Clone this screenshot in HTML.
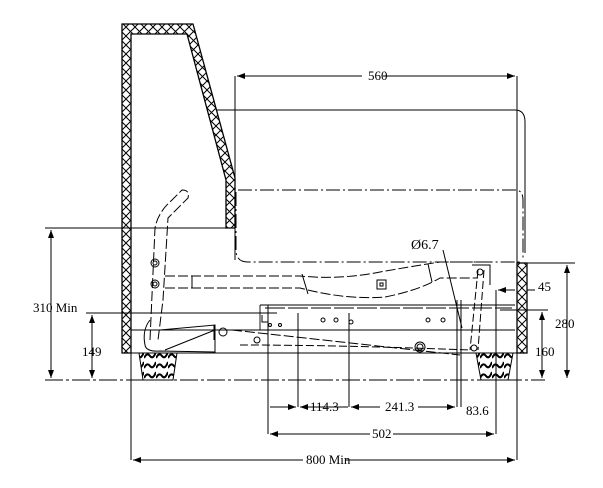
<!DOCTYPE html>
<html><head><meta charset="utf-8"><style>
html,body{margin:0;padding:0;background:#fff;width:603px;height:488px;overflow:hidden}
svg{display:block}
text{font-family:"Liberation Serif",serif;font-size:13px;fill:#000}
</style></head><body>
<svg width="603" height="488" viewBox="0 0 603 488" xmlns="http://www.w3.org/2000/svg">
<defs>
<pattern id="h" width="9" height="9" patternUnits="userSpaceOnUse">
<rect width="9" height="9" fill="#fff"/>
<path d="M0 0L9 9M9 0L0 9" stroke="#000" stroke-width="1"/>
</pattern>
<pattern id="w" width="12" height="10" patternUnits="userSpaceOnUse">
<rect width="12" height="10" fill="#fff"/>
<path d="M0 8Q3 2 6 6T12 2" stroke="#000" stroke-width="2" fill="none"/>
</pattern>
<marker id="a" markerWidth="8" markerHeight="6" refX="8" refY="3" orient="auto-start-reverse" markerUnits="userSpaceOnUse"><path d="M0 0L8 3L0 6z" fill="#000"/></marker>
</defs>
<g fill="none" stroke="#000" stroke-width="1">
<path d="M122 24H193L235 178V228H226V180L187 34H131V353H122Z" fill="url(#h)" stroke-width="1.3"/>
<rect x="517" y="263" width="10" height="90" fill="url(#h)" stroke-width="1.3"/>
<path d="M131 353H517"/>
<path d="M139 353H177L173 380H143Z" fill="url(#w)"/>
<path d="M476 353H513L508 380H481Z" fill="url(#w)"/>
<path d="M216 110H515Q525 110 525 122V253"/>
<path d="M238 190H515Q523 190 523 200V260" stroke-dasharray="14 3 2 3"/>
<path d="M236 192V250Q236 262 248 262H520" stroke-dasharray="14 3 2 3"/>
<path d="M235 76V260M517 76V263"/>
<path d="M237 76H362M383 76H515" marker-start="url(#a)" marker-end="url(#a)"/>
<path d="M45 228H226"/>
<path d="M51 230V378" marker-start="url(#a)" marker-end="url(#a)"/>
<path d="M86 313H277"/>
<path d="M92 315V378" marker-start="url(#a)" marker-end="url(#a)"/>
<path d="M45 380H545" stroke-dasharray="18 3 3 3"/>
<path d="M527 263H575"/>
<path d="M567 265V378" marker-start="url(#a)" marker-end="url(#a)"/>
<path d="M500 310H548"/>
<path d="M542 312V378" marker-start="url(#a)" marker-end="url(#a)"/>
<path d="M496 290V434"/>
<path d="M498 290H515M527 290H535" marker-start="url(#a)"/>
<path d="M298 313V407M349 313V407M457 300V407M461 300V407M268 305V434M131 353V460M517 353V460"/>
<path d="M270 407H296" marker-end="url(#a)"/>
<path d="M300 407H348" marker-start="url(#a)"/>
<path d="M351 407H380M418 407H455" marker-start="url(#a)" marker-end="url(#a)"/>
<path d="M270 434H370M393 434H494" marker-start="url(#a)" marker-end="url(#a)"/>
<path d="M133 460H303M345 460H515" marker-start="url(#a)" marker-end="url(#a)"/>
<path d="M443 250L462 328"/>
<path d="M260 305H515M260 305V330M260 330H515M131 330H262" stroke-width="0.9"/>
<path d="M265 308H512" stroke-dasharray="20 3"/>
<path d="M165 276H300Q340 280 380 272Q420 265 440 262H480" stroke-dasharray="10 3"/>
<path d="M165 288H300Q345 300 385 297Q420 290 440 278H478" stroke-dasharray="10 3"/>
<path d="M192 276V288M302 274L308 294M428 264L432 282"/>
<rect x="377" y="280" width="9" height="9"/>
<rect x="380" y="283" width="3" height="3"/>
<path d="M150 340L155 228Q158 212 172 200L182 190Q190 190 188 198L168 218L163 300L158 340" stroke-dasharray="10 3"/>
<circle cx="155" cy="263" r="4"/><circle cx="155" cy="263" r="2"/>
<circle cx="155" cy="284" r="4"/><circle cx="155" cy="284" r="2"/>
<path d="M145 345Q142 330 150 320M145 345Q146 352 160 351L215 352L215 325L160 330" />
<path d="M165 350L215 330M214 325V340"/>
<circle cx="223" cy="332" r="4"/>
<path d="M232 330L460 355" stroke-dasharray="10 3"/>
<path d="M240 345Q340 345 470 350" stroke-dasharray="8 3"/>
<circle cx="257" cy="340" r="3"/>
<circle cx="420" cy="347" r="5"/><circle cx="420" cy="347" r="3"/>
<circle cx="323" cy="320" r="2"/><circle cx="336" cy="320" r="2"/><circle cx="351" cy="322" r="2"/>
<circle cx="428" cy="320" r="2"/><circle cx="443" cy="320" r="2"/>
<circle cx="270" cy="325" r="1.5"/><circle cx="280" cy="325" r="1.5"/>
<path d="M478 270L470 350M484 270L478 350" stroke-dasharray="8 3"/>
<circle cx="480" cy="272" r="3"/><circle cx="474" cy="348" r="3"/>
<path d="M472 265H490V285" />
<path d="M262 315V322H268"/>
</g>
<text x="368" y="80">560</text>
<text x="33" y="312">310 Min</text>
<text x="82" y="356">149</text>
<text x="555" y="328">280</text>
<text x="535" y="356">160</text>
<text x="538" y="291">45</text>
<text x="411" y="249" style="font-size:14px">Ø6.7</text>
<text x="310" y="411">114.3</text>
<text x="385" y="411">241.3</text>
<text x="466" y="415">83.6</text>
<text x="372" y="438">502</text>
<text x="306" y="464">800 Min</text>
</svg>
</body></html>
